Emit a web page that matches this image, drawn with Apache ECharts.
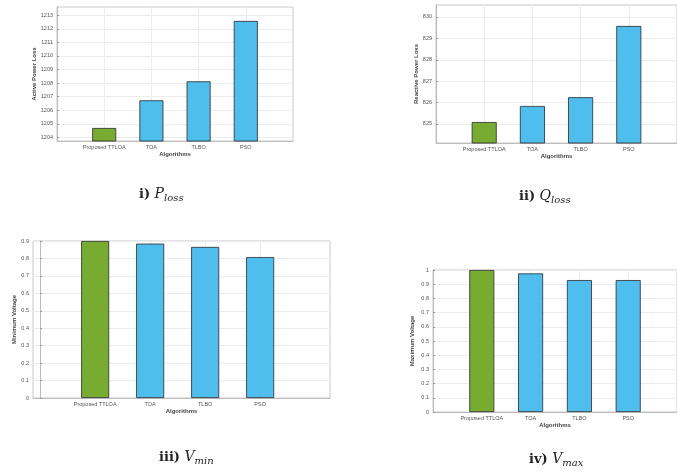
<!DOCTYPE html>
<html>
<head>
<meta charset="utf-8">
<script src="https://cdn.jsdelivr.net/npm/echarts@6/dist/echarts.min.js"></script>
<style>html,body{margin:0;padding:0;background:#fff;}#c{width:677px;height:475px;}</style>
</head>
<body>
<div id="c"></div>
<script>
// ---- data ----
const categories = ['Proposed TTLOA', 'TOA', 'TLBO', 'PSO'];
const pLoss = [1204.69, 1206.73, 1208.13, 1212.58];
const qLoss = [825.09, 825.84, 826.25, 829.58];
const vMin = [0.9, 0.885, 0.866, 0.808];
const vMax = [1.0, 0.976, 0.929, 0.929];
const pTicks = [1204, 1205, 1206, 1207, 1208, 1209, 1210, 1211, 1212, 1213];
const qTicks = [825, 826, 827, 828, 829, 830];
const vMinTicks = [0, 0.1, 0.2, 0.3, 0.4, 0.5, 0.6, 0.7, 0.8, 0.9];
const vMaxTicks = [0, 0.1, 0.2, 0.3, 0.4, 0.5, 0.6, 0.7, 0.8, 0.9, 1];
const yNames = ['Active Power Loss', 'Reactive Power Loss', 'Minimum Voltage', 'Maximum Voltage'];
const xName = 'Algorithms';

// ---- layout ----
const GREEN = '#77ac30', BLUE = '#4dbeee';
const panels = [
  {vals: pLoss, ticks: pTicks, ymin: 1203.73, ymax: 1213.61, grid: {left: 57, top: 7, width: 236, height: 134}, xmin: 0, xmax: 5, bw: 24, nameGap: 19},
  {vals: qLoss, ticks: qTicks, ymin: 824.11, ymax: 830.56, grid: {left: 436, top: 5, width: 243, height: 138}, xmin: 0, xmax: 5, bw: 25, nameGap: 17},
  {vals: vMin, ticks: vMinTicks, ymin: 0, ymax: 0.9, grid: {left: 33, top: 241, width: 297, height: 157}, xmin: -0.13, xmax: 5.27, bw: 28, nameGap: 15},
  {vals: vMax, ticks: vMaxTicks, ymin: 0, ymax: 1, grid: {left: 433, top: 270, width: 249, height: 142}, xmin: 0, xmax: 5, bw: 25, nameGap: 18}
];
const txt = '#555';
const grids = [], xAxes = [], yAxes = [], series = [];
panels.forEach((p, k) => {
  grids.push(Object.assign({show: true, borderColor: '#c8c8c8', borderWidth: 1, backgroundColor: '#fff'}, p.grid));
  xAxes.push({
    type: 'value', gridIndex: k, min: p.xmin, max: p.xmax,
    name: xName, nameLocation: 'middle', nameGap: 10,
    nameTextStyle: {fontSize: 6, fontWeight: 'bold', color: '#444', fontFamily: 'Liberation Sans'},
    axisLine: {show: true, lineStyle: {color: '#bdbdbd', width: 1}},
    axisTick: {show: true, inside: true, length: 2, customValues: [1, 2, 3, 4], lineStyle: {color: '#999'}},
    axisLabel: {customValues: [1, 2, 3, 4], margin: 3, fontSize: 5.5, color: txt, fontFamily: 'Liberation Sans',
      formatter: v => categories[Math.round(v) - 1] || ''},
    splitLine: {show: true, lineStyle: {color: '#ececec', width: 1}}
  });
  yAxes.push({
    type: 'value', gridIndex: k, min: p.ymin, max: p.ymax,
    name: yNames[k], nameLocation: 'middle', nameGap: p.nameGap, nameRotate: 90,
    nameTextStyle: {fontSize: 6, fontWeight: 'bold', color: '#444', fontFamily: 'Liberation Sans'},
    axisLine: {show: true, lineStyle: {color: '#bdbdbd', width: 1}},
    axisTick: {show: true, inside: true, length: 2, customValues: p.ticks, lineStyle: {color: '#999'}},
    axisLabel: {customValues: p.ticks, margin: 4, fontSize: 5.5, color: txt, fontFamily: 'Liberation Sans',
      formatter: v => String(Math.round(v * 10) / 10)},
    splitLine: {show: true, lineStyle: {color: '#ececec', width: 1}}
  });
  series.push({
    type: 'bar', xAxisIndex: k, yAxisIndex: k, barWidth: p.bw, z: 3,
    data: p.vals.map((v, i) => ({value: [i + 1, v], itemStyle: {color: i === 0 ? GREEN : BLUE}})),
    itemStyle: {borderColor: '#2a2a2a', borderWidth: 0.8}
  });
});

const rich = {
  a: {fontFamily: 'DejaVu Serif', fontSize: 13, color: '#222', fontWeight: 'bold'},
  b: {fontFamily: 'DejaVu Serif', fontStyle: 'italic', fontWeight: 'normal', fontSize: 14, color: '#222'},
  c: {fontFamily: 'DejaVu Serif', fontStyle: 'italic', fontWeight: 'normal', fontSize: 10, color: '#222', padding: [7, 0, 0, 0]}
};
const caption = (roman, sym, sub, left, top) => ({
  text: '{a|' + roman + ') }{b|' + sym + '}{c|' + sub + '}', left: left, top: top,
  textStyle: {fontWeight: 'normal', rich: rich}
});

const chart = echarts.init(document.getElementById('c'), null, {renderer: 'canvas'});
chart.setOption({
  animation: false,
  backgroundColor: '#fff',
  title: [
    caption('i', 'P', 'loss', 134, 181),
    caption('ii', 'Q', 'loss', 514, 183),
    caption('iii', 'V', 'min', 154, 444),
    caption('iv', 'V', 'max', 524, 446)
  ],
  grid: grids, xAxis: xAxes, yAxis: yAxes, series: series
});
</script>
</body>
</html>
